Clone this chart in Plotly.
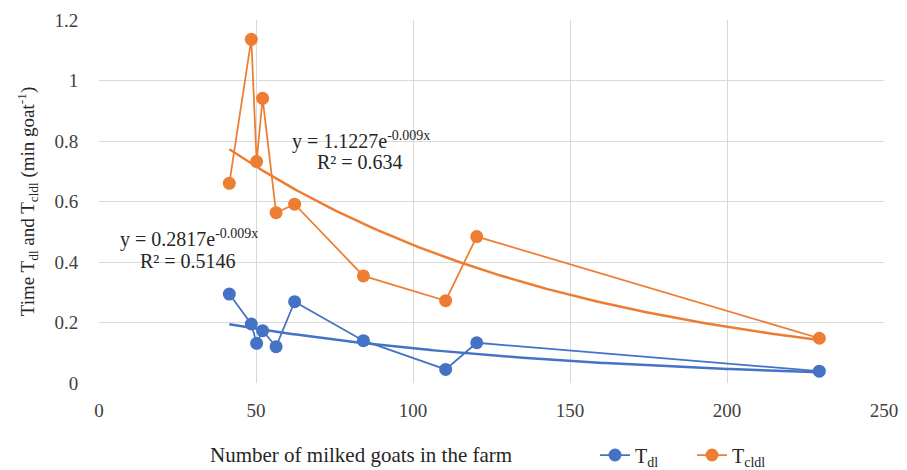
import numpy as np
import plotly.graph_objects as go

# Data
goats = [41.5, 48.5, 50.2, 52.1, 56.4, 62.3, 84.2, 110.4, 120.3, 229.4]
t_dl = [0.294, 0.195, 0.131, 0.173, 0.120, 0.269, 0.140, 0.045, 0.133, 0.039]
t_cldl = [0.660, 1.136, 0.732, 0.941, 0.563, 0.591, 0.354, 0.272, 0.484, 0.148]

# Exponential trendline parameters (as displayed)
a_dl, b_dl, r2_dl = 0.2817, -0.009, 0.5146
a_cldl, b_cldl, r2_cldl = 1.1227, -0.009, 0.634

x_ticks = [0, 50, 100, 150, 200, 250]
y_ticks = [0, 0.2, 0.4, 0.6, 0.8, 1.0, 1.2]
y_tick_text = ["0", "0.2", "0.4", "0.6", "0.8", "1", "1.2"]

BLUE = "#4472C4"
ORANGE = "#ED7D31"
FONT = "Liberation Serif, serif"

xt = np.linspace(min(goats), max(goats), 200)

fig = go.Figure()
fig.add_trace(go.Scatter(x=xt, y=a_dl * np.exp(b_dl * xt), mode="lines",
                         line=dict(color=BLUE, width=2.5), showlegend=False, hoverinfo="skip"))
fig.add_trace(go.Scatter(x=xt, y=a_cldl * np.exp(b_cldl * xt), mode="lines",
                         line=dict(color=ORANGE, width=2.5), showlegend=False, hoverinfo="skip"))
fig.add_trace(go.Scatter(x=goats, y=t_dl, mode="lines+markers", name="T<sub>dl</sub>",
                         line=dict(color=BLUE, width=1.75),
                         marker=dict(color=BLUE, size=13)))
fig.add_trace(go.Scatter(x=goats, y=t_cldl, mode="lines+markers", name="T<sub>cldl</sub>",
                         line=dict(color=ORANGE, width=1.75),
                         marker=dict(color=ORANGE, size=13)))

ann_font = dict(family=FONT, size=20, color="#262626")
L, R, T, B = 99, 23, 20, 87
W, H = 907, 470
pw, ph = W - L - R, H - T - B
annots = [
    (361, 140, f"y = {a_cldl}e<sup>{b_cldl}x</sup>"),
    (360, 162, f"R² = {r2_cldl}"),
    (189, 238, f"y = {a_dl}e<sup>{b_dl}x</sup>"),
    (188, 261, f"R² = {r2_dl}"),
]
for px, py, txt in annots:
    fig.add_annotation(x=(px - L) / pw, y=1 - (py - T) / ph, xref="paper", yref="paper",
                       text=txt, showarrow=False, font=ann_font, xanchor="center", yanchor="middle")

# x-axis title (offset left, as in reference)
fig.add_annotation(x=(361 - L) / pw, y=1 - (455 - T) / ph, xref="paper", yref="paper",
                   text="Number of milked goats in the farm", showarrow=False,
                   font=dict(family=FONT, size=21, color="#262626"), xanchor="center", yanchor="middle")

fig.update_layout(
    width=W, height=H,
    margin=dict(l=L, r=R, t=T, b=B, autoexpand=False),
    paper_bgcolor="white", plot_bgcolor="white",
    font=dict(family=FONT, size=18, color="#262626"),
    showlegend=True,
    legend=dict(orientation="h", x=(595 - L) / pw, xanchor="left", y=1 - (455 - T) / ph, yanchor="middle",
                font=dict(family=FONT, size=20, color="#262626"), bgcolor="rgba(0,0,0,0)",
                itemwidth=30, entrywidth=52, entrywidthmode="pixels", tracegroupgap=0),
    xaxis=dict(range=[0, 250], tickvals=x_ticks, showgrid=True, gridcolor="#D9D9D9", gridwidth=1,
               zeroline=False, showline=False, ticks="outside", ticklen=10, tickcolor="rgba(0,0,0,0)",
               automargin=False,
               tickfont=dict(family=FONT, size=19, color="#404040")),
    yaxis=dict(range=[0, 1.2], tickvals=y_ticks, ticktext=y_tick_text, showgrid=True, gridcolor="#D9D9D9",
               gridwidth=1, zeroline=False, showline=False, ticks="outside", ticklen=16,
               tickcolor="rgba(0,0,0,0)", tickfont=dict(family=FONT, size=19, color="#404040"),
               automargin=False,
               title=dict(text="Time T<sub>dl</sub> and T<sub>cldl</sub> (min goat<sup>-1</sup>)",
                          font=dict(family=FONT, size=19, color="#262626"), standoff=14)),
)

fig.write_html("out.html", config={"displayModeBar": False},
               post_script="document.body.style.margin='0';document.body.style.padding='0';")
